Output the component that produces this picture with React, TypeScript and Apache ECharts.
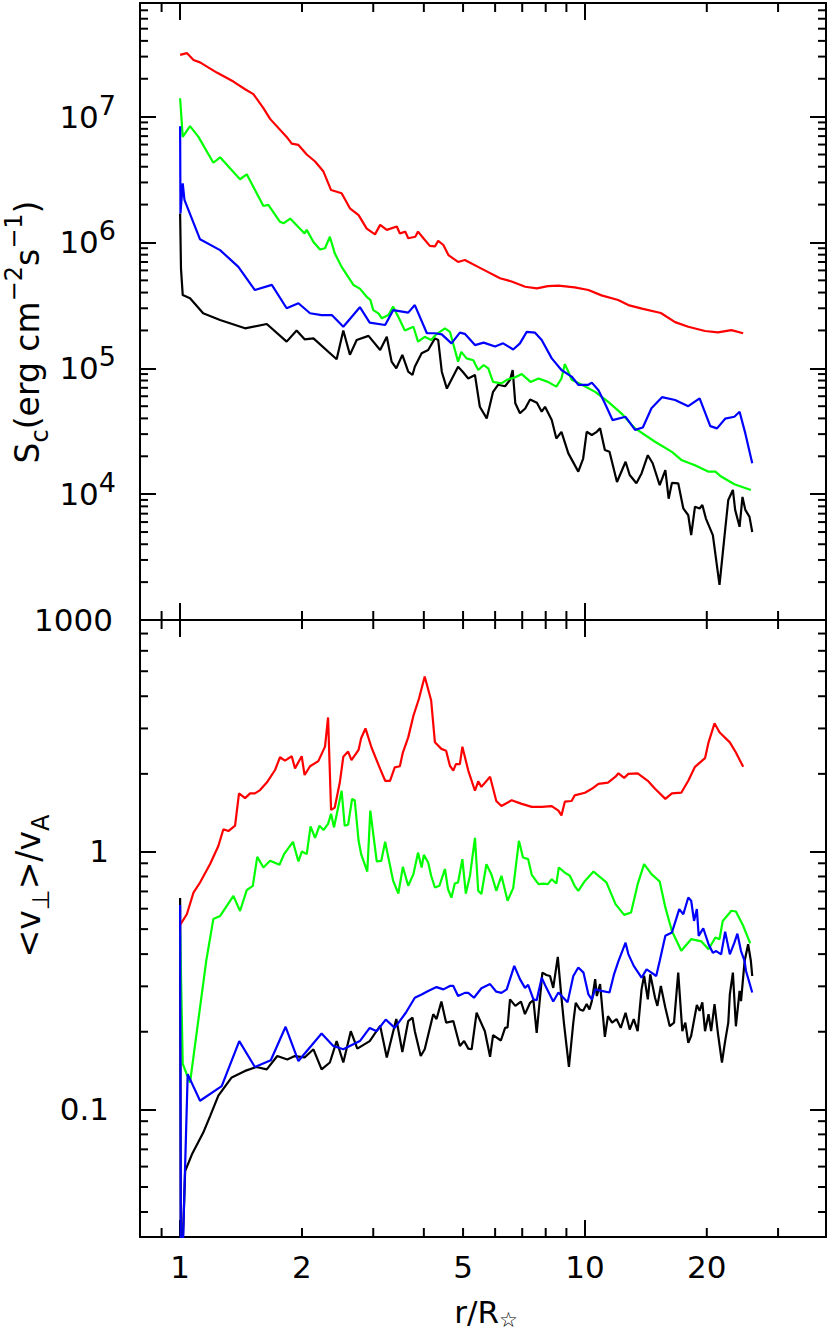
import React, { useEffect, useRef } from 'react';
import * as echarts from 'echarts';

const FONT = '"DejaVu Sans", sans-serif';

// axis ranges
const X_MIN = 0.796;
const X_MAX = 39.4;
const SC_MIN = 1000;
const SC_MAX = 8.0e7;
const V_MIN = 0.032;
const V_MAX = 7.9;

// tick values
const xMinorTicks = [0.9, 2, 3, 4, 5, 6, 7, 8, 9, 20, 30];
const xTickLabels = [1, 2, 5, 10, 20];
const scMinorTicks = [
  2000, 3000, 4000, 5000, 6000, 7000, 8000, 9000,
  20000, 30000, 40000, 50000, 60000, 70000, 80000, 90000,
  2e5, 3e5, 4e5, 5e5, 6e5, 7e5, 8e5, 9e5,
  2e6, 3e6, 4e6, 5e6, 6e6, 7e6, 8e6, 9e6,
  2e7, 3e7, 4e7, 5e7, 6e7, 7e7,
];
const vMinorTicks = [0.04, 0.05, 0.06, 0.07, 0.08, 0.09, 0.2, 0.3, 0.4, 0.5, 0.6, 0.7, 0.8, 0.9, 2, 3, 4, 5, 6, 7];

// top panel: S_c (erg cm^-2 s^-1) vs r/R*
const scRed: [number, number][] = [
  [1.0, 3.1e7], [1.039, 3.2e7], [1.079, 2.82e7], [1.12, 2.7e7], [1.232, 2.24e7], [1.354, 1.9e7], [1.447, 1.65e7],
  [1.517, 1.51e7], [1.606, 1.17e7], [1.668, 9.6e6], [1.833, 6.9e6], [1.887, 6.1e6], [1.96, 5.96e6], [2.055, 5.0e6],
  [2.155, 4.4e6], [2.26, 3.66e6], [2.36, 2.61e6], [2.506, 2.46e6], [2.627, 1.87e6], [2.76, 1.65e6], [2.89, 1.29e6],
  [3.03, 1.16e6], [3.12, 1.38e6], [3.24, 1.26e6], [3.43, 1.34e6], [3.49, 1.18e6], [3.6, 1.22e6], [3.66, 1.08e6],
  [3.81, 1.11e6], [3.87, 1.22e6], [3.99, 1.08e6], [4.14, 9.4e5], [4.26, 9.3e5], [4.34, 1.03e6], [4.47, 9.55e5],
  [4.6, 7.95e5], [4.86, 7.0e5], [5.05, 7.25e5], [5.55, 6.2e5], [6.17, 5.2e5], [6.59, 4.9e5], [7.12, 4.45e5],
  [7.61, 4.32e5], [8.1, 4.5e5], [8.6, 4.54e5], [9.43, 4.4e5], [10.2, 4.19e5], [10.99, 3.8e5], [12.08, 3.49e5],
  [12.8, 3.18e5], [13.83, 2.98e5], [15.4, 2.75e5], [16.7, 2.33e5], [18.0, 2.14e5], [19.8, 1.98e5], [21.3, 1.93e5],
  [23.0, 2.01e5], [24.6, 1.9e5],
];
const scGreen: [number, number][] = [
  [1.0, 1.4e7], [1.015, 6.9e6], [1.058, 8.4e6], [1.11, 6.9e6], [1.208, 4.3e6], [1.255, 4.75e6], [1.406, 3.18e6],
  [1.461, 3.48e6], [1.606, 1.95e6], [1.652, 1.99e6], [1.765, 1.46e6], [1.8, 1.42e6], [1.87, 1.55e6], [2.03, 1.18e6],
  [2.055, 1.26e6], [2.135, 1.01e6], [2.216, 8.8e5], [2.28, 9.0e5], [2.344, 1.11e6], [2.41, 8.2e5], [2.506, 6.4e5],
  [2.68, 4.6e5], [2.78, 4.3e5], [2.89, 3.7e5], [2.95, 3.5e5], [3.0, 2.9e5], [3.09, 2.73e5], [3.15, 2.5e5],
  [3.27, 2.65e5], [3.36, 3.09e5], [3.49, 2.42e5], [3.59, 2.0e5], [3.77, 2.14e5], [3.87, 1.63e5], [4.02, 1.78e5],
  [4.17, 1.68e5], [4.3, 1.87e5], [4.51, 2.08e5], [4.64, 1.95e5], [4.86, 1.13e5], [4.95, 1.35e5], [5.1, 1.2e5],
  [5.3, 1.16e5], [5.45, 9.7e4], [5.62, 1.06e5], [5.77, 1.0e5], [5.93, 7.8e4], [6.22, 7.6e4], [6.41, 8.1e4],
  [6.73, 8.5e4], [6.98, 9.0e4], [7.34, 7.8e4], [7.68, 8.3e4], [8.1, 7.8e4], [8.5, 7.15e4], [8.75, 8.3e4],
  [8.92, 1.08e5], [9.1, 9.4e4], [9.27, 8.1e4], [9.83, 7.4e4], [10.6, 6.5e4], [11.4, 5.43e4], [12.3, 4.39e4],
  [13.3, 3.33e4], [14.9, 2.61e4], [16.4, 2.17e4], [17.3, 1.87e4], [18.7, 1.7e4], [20.2, 1.51e4], [21.0, 1.51e4],
  [21.7, 1.38e4], [23.4, 1.2e4], [25.7, 1.08e4],
];
const scBlue: [number, number][] = [
  [1.0, 8.4e6], [1.002, 1.7e6], [1.015, 2.95e6], [1.025, 2.18e6], [1.12, 1.06e6], [1.255, 8.7e5], [1.393, 6.4e5],
  [1.53, 4.19e5], [1.685, 4.6e5], [1.833, 3.0e5], [1.96, 3.29e5], [2.094, 2.74e5], [2.236, 2.65e5], [2.37, 2.65e5],
  [2.53, 2.14e5], [2.78, 3.06e5], [2.94, 2.31e5], [3.21, 2.21e5], [3.36, 2.9e5], [3.66, 2.77e5], [3.8, 3.18e5],
  [4.07, 1.9e5], [4.26, 1.9e5], [4.43, 1.86e5], [4.68, 1.58e5], [4.91, 1.92e5], [5.05, 1.88e5], [5.35, 1.53e5],
  [5.62, 1.6e5], [6.0, 1.49e5], [6.28, 1.58e5], [6.65, 1.41e5], [6.91, 1.58e5], [7.18, 1.95e5], [7.53, 1.92e5],
  [7.82, 1.68e5], [8.28, 1.2e5], [8.75, 9.7e4], [9.27, 8.6e4], [9.63, 7.4e4], [10.2, 7.4e4], [10.4, 7.7e4],
  [10.8, 6.7e4], [11.2, 5.27e4], [11.7, 3.88e4], [12.6, 4.12e4], [13.3, 3.24e4], [13.9, 3.39e4], [14.6, 4.81e4],
  [15.5, 5.9e4], [16.7, 5.6e4], [18.0, 5.0e4], [19.2, 5.77e4], [20.4, 3.47e4], [21.2, 3.33e4], [22.2, 3.98e4],
  [23.4, 4.12e4], [24.1, 4.52e4], [24.9, 3.04e4], [25.9, 1.76e4],
];
const scBlack: [number, number][] = [
  [1.0, 1.7e6], [1.005, 6.2e5], [1.015, 3.82e5], [1.058, 3.6e5], [1.14, 2.74e5], [1.255, 2.42e5], [1.447, 2.08e5],
  [1.637, 2.25e5], [1.833, 1.63e5], [1.94, 2.0e5], [2.03, 1.7e5], [2.135, 1.73e5], [2.436, 1.18e5], [2.53, 2.0e5],
  [2.627, 1.28e5], [2.73, 1.68e5], [2.92, 1.81e5], [3.12, 1.4e5], [3.24, 1.78e5], [3.33, 1.13e5], [3.42, 1.0e5],
  [3.54, 1.28e5], [3.66, 9.4e4], [3.75, 8.85e4], [3.8, 1.03e5], [3.95, 1.32e5], [4.1, 1.4e5], [4.26, 1.73e5],
  [4.34, 1.68e5], [4.43, 9.4e4], [4.56, 6.9e4], [4.86, 1.03e5], [4.99, 9.4e4], [5.15, 8.3e4], [5.35, 8.85e4],
  [5.5, 4.95e4], [5.72, 4.0e4], [5.93, 6.5e4], [6.1, 7.4e4], [6.35, 7.2e4], [6.53, 8.1e4], [6.63, 9.7e4],
  [6.73, 5.27e4], [6.91, 4.39e4], [7.12, 4.8e4], [7.32, 5.66e4], [7.61, 5.33e4], [7.82, 4.52e4], [7.97, 4.95e4],
  [8.28, 3.88e4], [8.5, 2.77e4], [8.75, 3.13e4], [9.1, 2.11e4], [9.63, 1.51e4], [9.9, 1.92e4], [10.1, 3.13e4],
  [10.4, 2.95e4], [10.7, 3.13e4], [10.9, 3.34e4], [11.2, 2.24e4], [11.5, 2.17e4], [12.0, 1.25e4], [12.6, 1.81e4],
  [12.9, 1.42e4], [13.4, 1.22e4], [13.8, 1.46e4], [14.3, 2.04e4], [14.7, 1.76e4], [15.3, 1.18e4], [15.8, 1.55e4],
  [16.1, 9.2e3], [16.4, 1.23e4], [17.0, 1.22e4], [17.5, 7.7e3], [18.0, 6.8e3], [18.3, 4.73e3], [18.7, 7.94e3],
  [19.2, 7.7e3], [19.5, 8.2e3], [19.9, 6.4e3], [20.7, 4.73e3], [21.5, 1.9e3], [22.2, 5.2e3], [22.6, 9.0e3],
  [23.2, 1.08e4], [23.5, 7.5e3], [24.1, 5.5e3], [24.5, 9.5e3], [24.9, 7.5e3], [25.5, 6.6e3], [25.9, 5.0e3],
];

// bottom panel: <v_perp>/v_A vs r/R*
const vRed: [number, number][] = [
  [1.0, 0.519], [1.039, 0.571], [1.079, 0.693], [1.12, 0.758], [1.186, 0.894], [1.243, 1.05], [1.279, 1.22],
  [1.316, 1.2], [1.367, 1.26], [1.398, 1.68], [1.447, 1.61], [1.489, 1.68], [1.53, 1.68], [1.576, 1.73],
  [1.637, 1.85], [1.716, 2.07], [1.765, 2.32], [1.816, 2.25], [1.887, 2.34], [1.922, 2.1], [1.997, 2.34],
  [2.03, 1.98], [2.094, 2.14], [2.195, 2.24], [2.28, 2.55], [2.32, 3.31], [2.36, 1.45], [2.41, 1.48], [2.48, 1.85],
  [2.53, 2.33], [2.6, 2.44], [2.65, 2.26], [2.76, 2.48], [2.8, 2.75], [2.87, 3.0], [2.97, 2.53], [3.12, 2.09],
  [3.21, 1.88], [3.3, 1.88], [3.39, 2.12], [3.49, 2.14], [3.55, 2.42], [3.66, 2.77], [3.77, 3.36], [3.89, 3.91],
  [4.02, 4.77], [4.17, 3.85], [4.26, 2.65], [4.42, 2.5], [4.54, 2.46], [4.64, 2.15], [4.73, 2.06], [4.8, 2.18],
  [4.91, 2.18], [4.98, 2.55], [5.15, 2.06], [5.35, 1.72], [5.45, 1.87], [5.55, 1.78], [5.83, 1.95], [6.04, 1.57],
  [6.22, 1.5], [6.59, 1.58], [6.98, 1.53], [7.39, 1.49], [7.82, 1.49], [8.28, 1.5], [8.6, 1.44], [8.75, 1.38],
  [8.92, 1.56], [9.27, 1.57], [9.43, 1.65], [10.0, 1.69], [10.4, 1.75], [10.8, 1.83], [11.4, 1.85], [11.9, 1.95],
  [12.1, 2.01], [12.5, 1.93], [12.8, 2.0], [13.5, 2.01], [14.3, 1.88], [14.9, 1.75], [15.8, 1.6], [16.4, 1.68],
  [17.3, 1.69], [18.0, 1.88], [18.7, 2.13], [19.8, 2.3], [20.2, 2.65], [20.9, 3.14], [21.5, 2.9], [22.8, 2.65],
  [23.6, 2.42], [24.6, 2.13],
];
const vGreen: [number, number][] = [
  [1.0, 0.492], [1.015, 0.15], [1.058, 0.127], [1.16, 0.376], [1.208, 0.547], [1.255, 0.562], [1.354, 0.673],
  [1.406, 0.588], [1.461, 0.708], [1.512, 0.736], [1.551, 0.953], [1.606, 0.867], [1.668, 0.92], [1.76, 0.888],
  [1.806, 0.977], [1.9, 1.09], [1.96, 0.915], [2.0, 1.0], [2.055, 0.977], [2.1, 1.25], [2.155, 1.13], [2.21, 1.26],
  [2.26, 1.21], [2.32, 1.28], [2.36, 1.4], [2.4, 1.24], [2.506, 1.72], [2.55, 1.26], [2.6, 1.27], [2.66, 1.6],
  [2.7, 1.58], [2.76, 1.1], [2.8, 0.977], [2.9, 0.836], [2.95, 1.44], [3.06, 0.915], [3.14, 0.92], [3.21, 1.09],
  [3.36, 0.769], [3.46, 0.687], [3.55, 0.872], [3.66, 0.736], [3.77, 0.817], [3.87, 0.99], [3.95, 0.867],
  [4.0, 0.97], [4.1, 0.906], [4.17, 0.805], [4.26, 0.725], [4.37, 0.736], [4.51, 0.855], [4.59, 0.714],
  [4.68, 0.662], [4.77, 0.751], [4.86, 0.759], [4.98, 0.934], [5.08, 0.687], [5.2, 0.805], [5.35, 1.13],
  [5.45, 0.704], [5.55, 0.684], [5.71, 0.893], [5.88, 0.812], [6.04, 0.704], [6.22, 0.805], [6.44, 0.644],
  [6.65, 0.721], [6.87, 1.1], [7.03, 0.948], [7.24, 0.934], [7.39, 0.812], [7.68, 0.747], [7.9, 0.751],
  [8.1, 0.747], [8.28, 0.781], [8.5, 0.751], [8.62, 0.867], [8.92, 0.828], [9.18, 0.805], [9.43, 0.736],
  [9.63, 0.704], [10.0, 0.769], [10.5, 0.836], [11.3, 0.759], [11.9, 0.625], [12.5, 0.568], [13.0, 0.58],
  [13.5, 0.747], [14.0, 0.893], [14.6, 0.817], [15.3, 0.765], [15.8, 0.607], [16.4, 0.492], [17.3, 0.412],
  [18.3, 0.457], [19.4, 0.448], [20.2, 0.418], [21.0, 0.464], [21.5, 0.457], [21.9, 0.538], [23.0, 0.589],
  [23.6, 0.585], [24.6, 0.515], [25.6, 0.44],
];
const vBlue: [number, number][] = [
  [1.0, 0.62], [1.004, 0.025], [1.015, 0.028], [1.044, 0.137], [1.12, 0.108], [1.267, 0.123], [1.4, 0.184],
  [1.53, 0.146], [1.675, 0.155], [1.822, 0.209], [1.96, 0.154], [2.236, 0.197], [2.39, 0.176], [2.53, 0.171],
  [2.78, 0.184], [2.94, 0.207], [3.06, 0.201], [3.22, 0.223], [3.39, 0.207], [3.61, 0.237], [3.8, 0.271],
  [3.95, 0.279], [4.1, 0.288], [4.3, 0.298], [4.47, 0.292], [4.64, 0.301], [4.73, 0.301], [4.86, 0.275],
  [5.05, 0.283], [5.15, 0.283], [5.32, 0.271], [5.55, 0.295], [5.83, 0.306], [6.04, 0.286], [6.22, 0.283],
  [6.41, 0.292], [6.69, 0.36], [6.91, 0.32], [7.11, 0.296], [7.24, 0.304], [7.46, 0.267], [7.6, 0.265],
  [7.82, 0.324], [8.03, 0.296], [8.35, 0.262], [8.6, 0.284], [9.06, 0.26], [9.36, 0.329], [9.63, 0.355],
  [9.92, 0.339], [10.2, 0.279], [10.4, 0.267], [10.6, 0.292], [10.99, 0.288], [11.5, 0.284], [11.8, 0.334],
  [12.1, 0.376], [12.6, 0.443], [12.8, 0.4], [13.2, 0.36], [13.8, 0.324], [14.2, 0.349], [14.6, 0.339],
  [15.0, 0.329], [15.3, 0.376], [15.8, 0.471], [16.4, 0.485], [16.8, 0.547], [17.1, 0.598], [17.5, 0.571],
  [18.0, 0.663], [18.3, 0.644], [18.6, 0.538], [18.9, 0.598], [19.1, 0.471], [19.6, 0.504], [20.2, 0.437],
  [20.7, 0.405], [21.1, 0.411], [21.7, 0.399], [22.2, 0.489], [22.8, 0.399], [23.4, 0.443], [23.8, 0.48],
  [24.3, 0.411], [24.8, 0.376], [25.0, 0.344], [25.9, 0.284],
];
const vBlack: [number, number][] = [
  [1.0, 0.66], [1.004, 0.025], [1.015, 0.03], [1.029, 0.0576], [1.069, 0.0668], [1.14, 0.0811], [1.186, 0.0942],
  [1.243, 0.113], [1.341, 0.133], [1.447, 0.141], [1.542, 0.146], [1.637, 0.143], [1.738, 0.161], [1.84, 0.156],
  [1.92, 0.161], [2.03, 0.159], [2.135, 0.171], [2.236, 0.143], [2.344, 0.152], [2.436, 0.184], [2.53, 0.152],
  [2.64, 0.201], [2.74, 0.172], [2.94, 0.184], [3.12, 0.211], [3.24, 0.159], [3.42, 0.224], [3.54, 0.167],
  [3.66, 0.22], [3.75, 0.227], [3.8, 0.201], [3.93, 0.161], [4.02, 0.171], [4.22, 0.234], [4.3, 0.224],
  [4.42, 0.262], [4.54, 0.217], [4.73, 0.22], [4.91, 0.176], [5.03, 0.184], [5.15, 0.172], [5.25, 0.171],
  [5.4, 0.237], [5.66, 0.201], [5.83, 0.16], [5.93, 0.194], [6.2, 0.185], [6.35, 0.207], [6.44, 0.208],
  [6.53, 0.267], [6.73, 0.252], [6.95, 0.262], [7.11, 0.234], [7.32, 0.259], [7.46, 0.265], [7.6, 0.198],
  [7.85, 0.339], [8.03, 0.332], [8.2, 0.329], [8.35, 0.296], [8.57, 0.39], [8.75, 0.271], [8.88, 0.214],
  [9.13, 0.146], [9.36, 0.217], [9.49, 0.259], [9.72, 0.244], [9.9, 0.241], [10.1, 0.256], [10.26, 0.244],
  [10.4, 0.263], [10.6, 0.32], [10.7, 0.275], [10.9, 0.306], [11.2, 0.191], [11.4, 0.23], [11.67, 0.217],
  [11.97, 0.224], [12.26, 0.207], [12.6, 0.237], [12.9, 0.204], [13.2, 0.224], [13.5, 0.201], [13.8, 0.292],
  [14.0, 0.33], [14.3, 0.267], [14.5, 0.334], [14.9, 0.271], [15.1, 0.252], [15.4, 0.301], [15.8, 0.248],
  [16.2, 0.21], [16.6, 0.217], [17.0, 0.339], [17.4, 0.201], [17.7, 0.217], [18.0, 0.181], [18.3, 0.193],
  [18.9, 0.254], [19.2, 0.241], [19.5, 0.26], [19.8, 0.201], [20.2, 0.234], [20.5, 0.201], [20.9, 0.256],
  [21.3, 0.198], [21.8, 0.152], [22.2, 0.184], [22.6, 0.217], [22.8, 0.279], [23.2, 0.339], [23.6, 0.21],
  [24.1, 0.288], [24.3, 0.263], [24.8, 0.376], [25.3, 0.437], [25.7, 0.376], [25.9, 0.329],
];

const AXIS_COLOR = '#000';

function xAxisDef(gridIndex: number, position: 'top' | 'bottom') {
  return {
    type: 'log',
    logBase: 10,
    gridIndex,
    position,
    min: X_MIN,
    max: X_MAX,
    axisLine: { show: true, onZero: false, lineStyle: { color: AXIS_COLOR, width: 2 } },
    axisTick: { show: true, inside: true, length: 17, lineStyle: { color: AXIS_COLOR, width: 2 } },
    axisLabel: { show: false },
    splitLine: { show: false },
    minorTick: { show: false },
  };
}

function yAxisDef(gridIndex: number, position: 'left' | 'right', min: number, max: number, labels: boolean, margin: number) {
  return {
    type: 'log',
    logBase: 10,
    gridIndex,
    position,
    min,
    max,
    axisLine: { show: true, onZero: false, lineStyle: { color: AXIS_COLOR, width: 2 } },
    axisTick: { show: true, inside: true, length: 16, lineStyle: { color: AXIS_COLOR, width: 2 } },
    splitLine: { show: false },
    minorTick: { show: false },
    axisLabel: {
      show: labels,
      margin,
      showMinLabel: min === SC_MIN,
      showMaxLabel: false,
      formatter: (v: number) => {
        const e = Math.round(Math.log10(v));
        if (min === SC_MIN) {
          if (e === 3) return '{m|1000}';
          return '{n|10}{s|' + e + '}';
        }
        return '{n|' + (e === -1 ? '0.1' : e === 0 ? '1' : String(v)) + '}';
      },
      rich: {
        n: { fontFamily: FONT, fontSize: 31, lineHeight: 50, color: '#000' },
        m: { fontFamily: FONT, fontSize: 31, lineHeight: 50, color: '#000', padding: [0, 3, 0, 0] },
        s: { fontFamily: FONT, fontSize: 27, lineHeight: 27, verticalAlign: 'top', color: '#000' },
      },
    },
  };
}

function minorTickSeries(xi: number, yi: number, xAnchor: number, yAnchor: number, yTicks: number[]) {
  const data = [
    ...xMinorTicks.map((v) => [v, yAnchor, 0]),
    ...yTicks.map((v) => [xAnchor, v, 1]),
  ];
  return {
    type: 'custom',
    coordinateSystem: 'cartesian2d',
    xAxisIndex: xi,
    yAxisIndex: yi,
    silent: true,
    clip: false,
    z: 5,
    data,
    encode: { x: 0, y: 1 },
    renderItem: (params: any, api: any) => {
      const cs = params.coordSys;
      const p = api.coord([api.value(0), api.value(1)]);
      const st = { stroke: '#000', lineWidth: 2 };
      if (api.value(2) === 0) {
        const yb = cs.y + cs.height;
        const yt = cs.y;
        return {
          type: 'group',
          children: [
            { type: 'line', shape: { x1: p[0], y1: yb, x2: p[0], y2: yb - 9 }, style: st },
            { type: 'line', shape: { x1: p[0], y1: yt, x2: p[0], y2: yt + 9 }, style: st },
          ],
        };
      }
      const xl = cs.x;
      const xr = cs.x + cs.width;
      return {
        type: 'group',
        children: [
          { type: 'line', shape: { x1: xl, y1: p[1], x2: xl + 8, y2: p[1] }, style: st },
          { type: 'line', shape: { x1: xr, y1: p[1], x2: xr - 8, y2: p[1] }, style: st },
        ],
      };
    },
  };
}

function xLabelSeries(xi: number, yi: number, yAnchor: number) {
  return {
    type: 'custom',
    coordinateSystem: 'cartesian2d',
    xAxisIndex: xi,
    yAxisIndex: yi,
    silent: true,
    clip: false,
    z: 5,
    data: xTickLabels.map((v) => [v, yAnchor]),
    encode: { x: 0, y: 1 },
    renderItem: (params: any, api: any) => {
      const cs = params.coordSys;
      const v = api.value(0);
      const p = api.coord([v, api.value(1)]);
      return {
        type: 'text',
        x: p[0],
        y: cs.y + cs.height + 30,
        style: {
          text: String(Math.round(v)),
          fill: '#000',
          font: '31px ' + FONT,
          align: 'center',
          verticalAlign: 'middle',
          textAlign: 'center',
          textVerticalAlign: 'middle',
        },
      };
    },
  };
}

function lineSeries(data: [number, number][], color: string, xi: number, yi: number) {
  return {
    type: 'line',
    data,
    xAxisIndex: xi,
    yAxisIndex: yi,
    showSymbol: false,
    symbol: 'none',
    clip: true,
    silent: true,
    z: 3,
    lineStyle: { color, width: 2.2 },
    itemStyle: { color },
    emphasis: { disabled: true },
  };
}

const RED = '#ff0000';
const GREEN = '#00ff00';
const BLUE = '#0000ff';
const BLACK = '#000000';

export default function App() {
  const ref = useRef<HTMLDivElement>(null);
  useEffect(() => {
    if (!ref.current) return;
    const chart = echarts.init(ref.current, null, { renderer: 'svg' });
    const titleRich = {
      n: { fontFamily: FONT, fontSize: 33, lineHeight: 50, fill: '#000', color: '#000' },
      p: { fontFamily: FONT, fontSize: 24, lineHeight: 24, verticalAlign: 'top', fill: '#000', color: '#000' },
      b: { fontFamily: FONT, fontSize: 24, lineHeight: 20, verticalAlign: 'bottom', fill: '#000', color: '#000' },
    };
    const option: any = {
      animation: false,
      backgroundColor: '#fff',
      grid: [
        { left: 140, top: 3, width: 686, height: 617, containLabel: false, outerBoundsMode: 'none' },
        { left: 140, top: 620, width: 686, height: 617, containLabel: false, outerBoundsMode: 'none' },
      ],
      xAxis: [xAxisDef(0, 'bottom'), xAxisDef(0, 'top'), xAxisDef(1, 'bottom'), xAxisDef(1, 'top')],
      yAxis: [
        yAxisDef(0, 'left', SC_MIN, SC_MAX, true, 24),
        yAxisDef(0, 'right', SC_MIN, SC_MAX, false, 8),
        yAxisDef(1, 'left', V_MIN, V_MAX, true, 31),
        yAxisDef(1, 'right', V_MIN, V_MAX, false, 8),
      ],
      series: [
        lineSeries(scBlack, BLACK, 0, 0),
        lineSeries(scRed, RED, 0, 0),
        lineSeries(scGreen, GREEN, 0, 0),
        lineSeries(scBlue, BLUE, 0, 0),
        lineSeries(vBlack, BLACK, 2, 2),
        lineSeries(vRed, RED, 2, 2),
        lineSeries(vGreen, GREEN, 2, 2),
        lineSeries(vBlue, BLUE, 2, 2),
        minorTickSeries(0, 0, 1, SC_MIN, scMinorTicks),
        minorTickSeries(2, 2, 1, V_MIN, vMinorTicks),
        xLabelSeries(2, 2, V_MIN),
      ],
      graphic: [
        {
          type: 'text',
          x: 27,
          y: 332,
          rotation: Math.PI / 2,
          style: {
            text: '{n|S}{b|c}{n|(erg cm}{p|\u22122}{n|s}{p|\u22121}{n|)}',
            rich: titleRich,
            align: 'center',
            verticalAlign: 'middle',
          },
        },
        {
          type: 'text',
          x: 28,
          y: 886,
          rotation: Math.PI / 2,
          style: {
            text: '{n|<v}{b|\u22a5}{n|>/v}{b|A}',
            rich: titleRich,
            align: 'center',
            verticalAlign: 'middle',
          },
        },
        {
          type: 'text',
          x: 486,
          y: 1312,
          style: {
            text: '{n|r/R}{b|\u2606}',
            rich: {
              n: { fontFamily: FONT, fontSize: 31, lineHeight: 36, fill: '#000', color: '#000' },
              b: { fontFamily: FONT, fontSize: 21, fontWeight: 'bold', lineHeight: 12, verticalAlign: 'bottom', fill: '#000', color: '#000' },
            },
            align: 'center',
            verticalAlign: 'middle',
          },
        },
      ],
    };
    chart.setOption(option);
    return () => {
      chart.dispose();
    };
  }, []);
  return (
    <div
      ref={ref}
      style={{ position: 'absolute', left: 0, top: 0, width: 830, height: 1338, background: '#fff' }}
    />
  );
}
